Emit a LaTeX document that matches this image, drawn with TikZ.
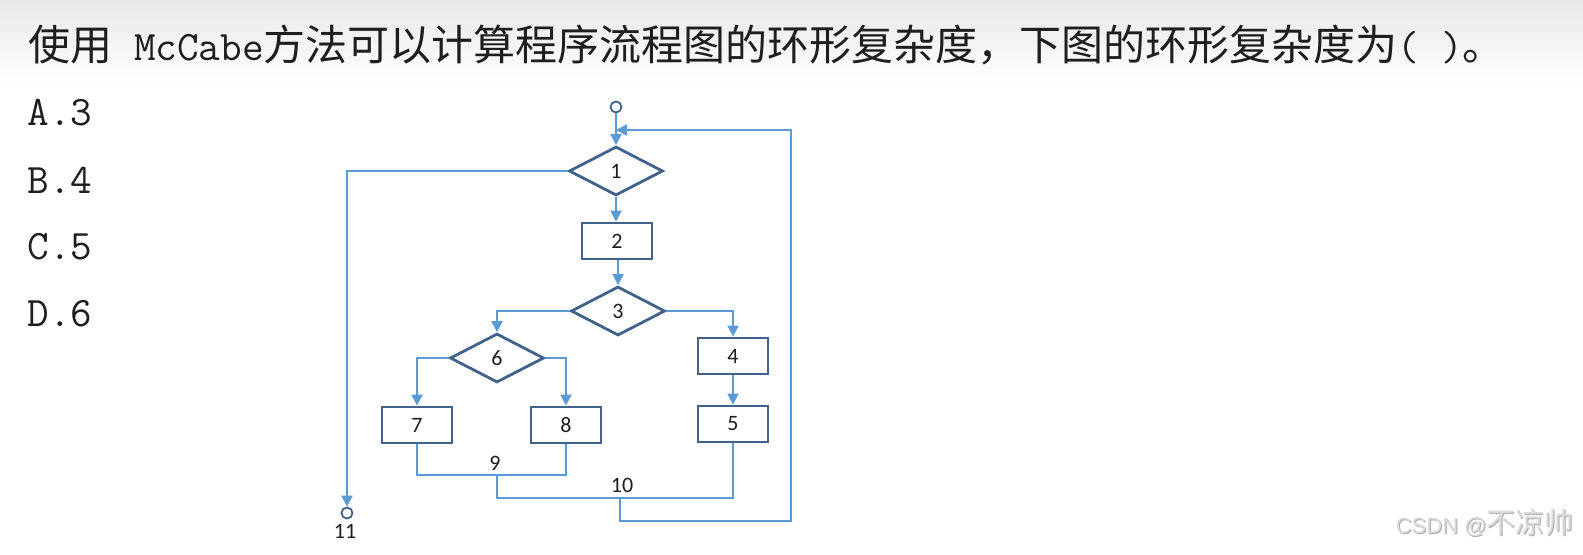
\documentclass[tikz,border=0pt]{standalone}
\usepackage{fontspec}
\usetikzlibrary{shapes.geometric,arrows.meta}
\newfontfamily\cjk{Noto Sans CJK SC}
\newfontfamily\numfont{Carlito}
\newfontfamily\wmfont{Liberation Sans}
\definecolor{conn}{HTML}{5B9BD5}
\definecolor{frame}{HTML}{41628A}
\definecolor{txt}{HTML}{1E1E1E}
\begin{document}
\begin{tikzpicture}[x=0.5pt,y=-0.5pt,
  bigtext/.style={anchor=base west,inner sep=0,text=txt,font=\fontsize{21}{25}\selectfont},
  boxnode/.style={draw=frame,line width=1.4pt,fill=white,rectangle,minimum width=35pt,minimum height=18pt,inner sep=0,font=\numfont\fontsize{11}{13}\selectfont,text=txt},
  dianode/.style={draw=frame,line width=1.4pt,fill=white,diamond,aspect=1.9,minimum width=47pt,minimum height=24.5pt,inner sep=0,font=\numfont\fontsize{11}{13}\selectfont,text=txt},
  endnode/.style={draw=frame,line width=0.9pt,circle,minimum size=5.5pt,inner sep=0,fill=white},
  lbl/.style={inner sep=0,font=\numfont\fontsize{11}{13}\selectfont,text=txt},
  conline/.style={draw=conn,line width=0.9pt},
  arr/.style={conline,-{Triangle[length=5.5pt,width=5.5pt,fill=conn]}}]
\useasboundingbox (0,0) rectangle (1583,554);
\fill[white] (0,0) rectangle (1583,554);
\shade[top color=black!9,bottom color=white] (0,0) rectangle (1583,85);
% question
\node[bigtext] (title) at (28,60) {{\cjk 使用}\ttfamily{} McCabe{\cjk 方法可以计算程序流程图的环形复杂度，下图的环形复杂度为}( ){\cjk 。}};
\node[bigtext,font=\ttfamily\fontsize{21}{25}\selectfont] (oa) at (27,125) {A.3};
\node[bigtext,font=\ttfamily\fontsize{21}{25}\selectfont] (ob) at (27,193) {B.4};
\node[bigtext,font=\ttfamily\fontsize{21}{25}\selectfont] (oc) at (27,259) {C.5};
\node[bigtext,font=\ttfamily\fontsize{21}{25}\selectfont] (od) at (27,326) {D.6};
% flow graph
\node[endnode] (s) at (616,107) {};
\coordinate (m1) at (616,130);
\node[dianode] (d1) at (616,171) {1};
\node[boxnode] (b2) at (617,241) {2};
\node[dianode] (d3) at (618,311) {3};
\node[dianode] (d6) at (497,358) {6};
\node[boxnode] (b4) at (733,356) {4};
\node[boxnode] (b5) at (733,424) {5};
\node[boxnode] (b7) at (417,425) {7};
\node[boxnode] (b8) at (566,425) {8};
\node[endnode] (e11) at (347,513) {};
\coordinate (j9) at (497,475);
\coordinate (j10) at (620,498);
\coordinate (c1) at (791,521);
\node[lbl] (l9) at (495,463) {9};
\node[lbl] (l10) at (622,485) {10};
\node[lbl] (l11) at (345,531) {11};
% connectors
\draw[arr] (s) -- (d1.north);
\draw[arr] (d1.south) -- (d1.south |- b2.north);
\draw[arr] (b2.south) -- (b2.south -| d3.north) -- (d3.north);
\draw[arr] (d1.west) -| (e11.north);
\draw[arr] (d3.west) -| (d6.north);
\draw[arr] (d3.east) -| (b4.north);
\draw[arr] (b4.south) -- (b5.north);
\draw[arr] (d6.west) -| (b7.north);
\draw[arr] (d6.east) -| (b8.north);
\draw[conline] (b7.south) |- (j9) -| (b8.south);
\draw[conline] (j9) |- (j10) -| (b5.south);
\draw[arr] (j10) |- (c1) |- (m1);
% watermark
\node[anchor=base east,inner sep=0,text=black!32] at (1575,534) {\wmfont\fontsize{11}{13}\selectfont CSDN @{\cjk\fontsize{14.5}{16}\selectfont 不凉帅}};
\node[anchor=base east,inner sep=0,text=black!14] at (1574,533) {\wmfont\fontsize{11}{13}\selectfont CSDN @{\cjk\fontsize{14.5}{16}\selectfont 不凉帅}};
\end{tikzpicture}
\end{document}
